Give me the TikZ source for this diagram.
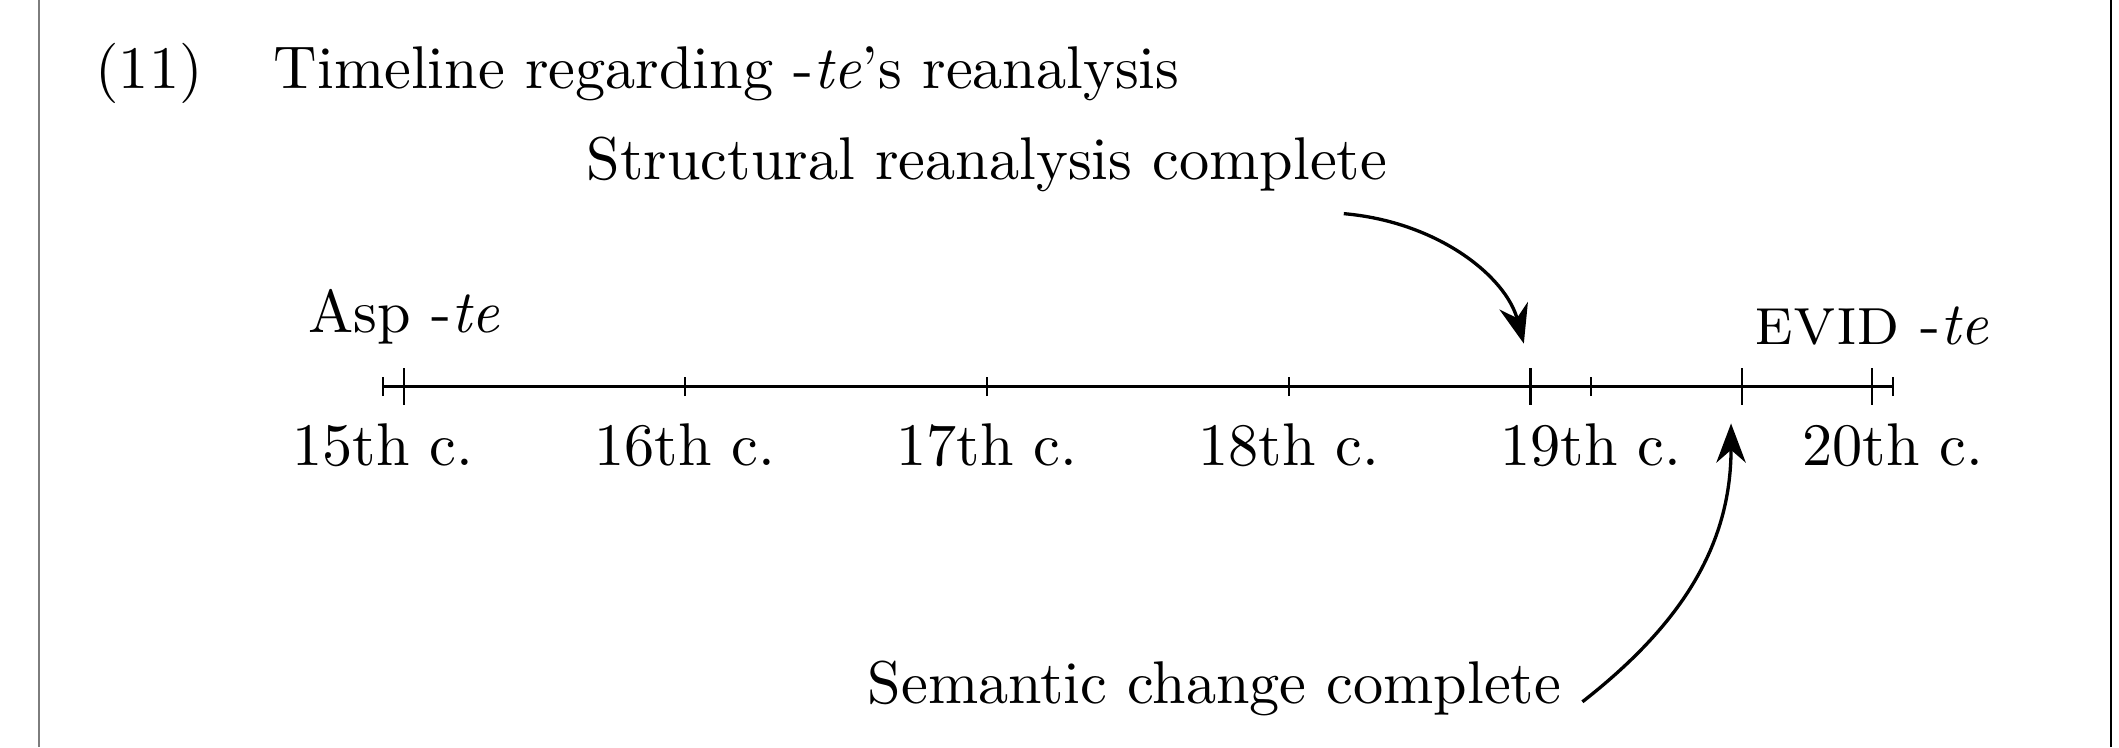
\documentclass[tikz,border=0pt]{standalone}
\usepackage{tikz}
\usetikzlibrary{arrows.meta,positioning}
\definecolor{edgegray}{RGB}{125,125,125}

\begin{document}
\begin{tikzpicture}[
    smalltick/.style={line width=0.25pt},
    bigtick/.style={line width=0.4pt},
    evarrow/.style={-{Stealth[length=6.5pt]},line width=0.55pt}
  ]
  \useasboundingbox (-2.232,-2.101) rectangle (10.118,2.253);
  % page edges
  \draw[edgegray,line width=0.35pt] (-2.005,-2.101) -- (-2.005,2.253);
  \draw[line width=0.35pt] (10.072,-2.101) -- (10.072,2.253);
  % heading of the example
  \node[anchor=base west] (exnum) at (-1.80,1.74) {(11)};
  \node[anchor=base west] (title) at (-0.76,1.74) {Timeline regarding -\textit{te}'s reanalysis};
  % the timeline itself, one x unit per century
  \begin{scope}[x=1.76cm]
    \draw[line width=0.4pt] (0,0) -- (5,0);
    \foreach \c [count=\n from 15] in {0,...,5}{
      \draw[smalltick] (\c,-1.6pt) -- (\c,1.6pt);
      \node[anchor=base] (c\n) at (\c,-0.458) {\n th c.};
    }
    % events on the line
    \foreach \t/\ev in {0.07/asp,3.8/str,4.5/sem,4.93/evid}
      \draw[bigtick] (\t,-3pt) coordinate (\ev-lo) -- (\t,3pt) coordinate (\ev-hi);
    \node[anchor=base] (asplbl) at (0.07,0.318) {Asp -\textit{te}};
    \node[anchor=base] (evidlbl) at (4.93,0.248) {{\fontsize{11.5}{13}\selectfont\textsc{evid}} -\textit{te}};
  \end{scope}
  % the two changes
  \node[anchor=base] (strlbl) at (3.52,1.204) {Structural reanalysis complete};
  \node[anchor=base] (semlbl) at (4.846,-1.845) {Semantic change complete};
  \coordinate (semtip) at (7.857,-0.215);
  \draw[evarrow,shorten >=0.15cm] ([xshift=-0.376cm]strlbl.south east) to[out=-5,in=105] (str-hi);
  \draw[evarrow] ([yshift=-0.08cm]semlbl.east) to[out=38,in=-90] (semtip);
\end{tikzpicture}
\end{document}
